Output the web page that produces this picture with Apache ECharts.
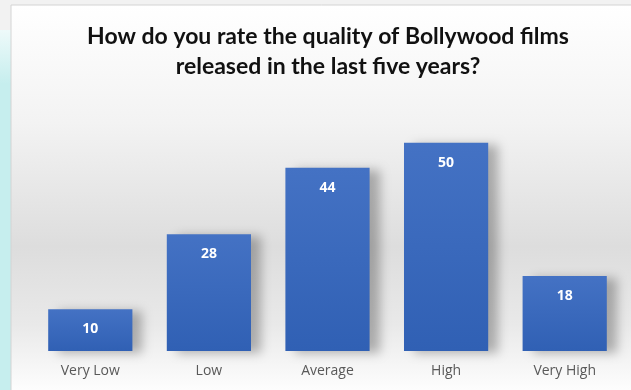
<!DOCTYPE html>
<html>
<head>
<meta charset="utf-8">
<script src="https://cdn.jsdelivr.net/npm/echarts@6/dist/echarts.min.js"></script>
<style>
  html, body { margin: 0; padding: 0; background: #f2f2f2; }
  #chart { width: 631px; height: 390px; }
</style>
</head>
<body>
<div id="chart"></div>
<script>
const titleText = 'How do you rate the quality of Bollywood films\nreleased in the last five years?'
const categories = ['Very Low', 'Low', 'Average', 'High', 'Very High']
const ratings = [10, 28, 44, 50, 18]

const chart = echarts.init(document.getElementById('chart'))

const option = {
  backgroundColor: '#f2f2f2',
  animation: false,
  graphic: [
    // cyan strip on the left edge
    {
      type: 'rect',
      z: -10,
      shape: { x: 0, y: 30, width: 11, height: 360 },
      style: {
        fill: new echarts.graphic.LinearGradient(0, 0, 0, 1, [
          { offset: 0, color: '#eefafa' },
          { offset: 0.15, color: '#c6eeee' },
          { offset: 1, color: '#c6eeee' }
        ])
      }
    },
    // chart box with grey gradient
    {
      type: 'rect',
      z: -5,
      shape: { x: 11, y: 5, width: 625, height: 390 },
      style: {
        stroke: '#d4d4d4',
        lineWidth: 1,
        fill: new echarts.graphic.LinearGradient(0, 0, 0, 1, [
          { offset: 0, color: '#ffffff' },
          { offset: 0.3, color: '#f3f3f3' },
          { offset: 0.62, color: '#dddddd' },
          { offset: 0.82, color: '#e9e9e9' },
          { offset: 1, color: '#ffffff' }
        ])
      }
    }
  ],
  title: {
    text: titleText,
    left: 323,
    textAlign: 'center',
    top: 17,
    textStyle: {
      fontFamily: 'Lato',
      fontWeight: 'bold',
      fontSize: 23,
      lineHeight: 30,
      color: '#111111'
    }
  },
  grid: {
    left: 31,
    right: 7,
    top: 101,
    bottom: 39
  },
  xAxis: {
    type: 'category',
    data: categories,
    axisLine: { show: false },
    axisTick: { show: false },
    axisLabel: {
      margin: 13,
      color: '#595959',
      fontFamily: 'Open Sans',
      fontSize: 14
    }
  },
  yAxis: {
    type: 'value',
    min: 0,
    max: 60,
    show: false,
    splitLine: { show: false }
  },
  series: [
    {
      type: 'bar',
      data: ratings,
      barWidth: '71%',
      itemStyle: {
        color: new echarts.graphic.LinearGradient(0, 0, 0, 1, [
          { offset: 0, color: '#4472c4' },
          { offset: 1, color: '#3060b4' }
        ]),
        shadowColor: 'rgba(0, 0, 0, 0.28)',
        shadowBlur: 10,
        shadowOffsetX: 10,
        shadowOffsetY: 2
      },
      label: {
        show: true,
        position: 'insideTop',
        distance: 13,
        color: '#ffffff',
        fontFamily: 'Open Sans',
        fontWeight: 'bold',
        fontSize: 14
      }
    }
  ]
}

chart.setOption(option)
window.addEventListener('resize', () => {
  chart.resize()
})
</script>
</body>
</html>
